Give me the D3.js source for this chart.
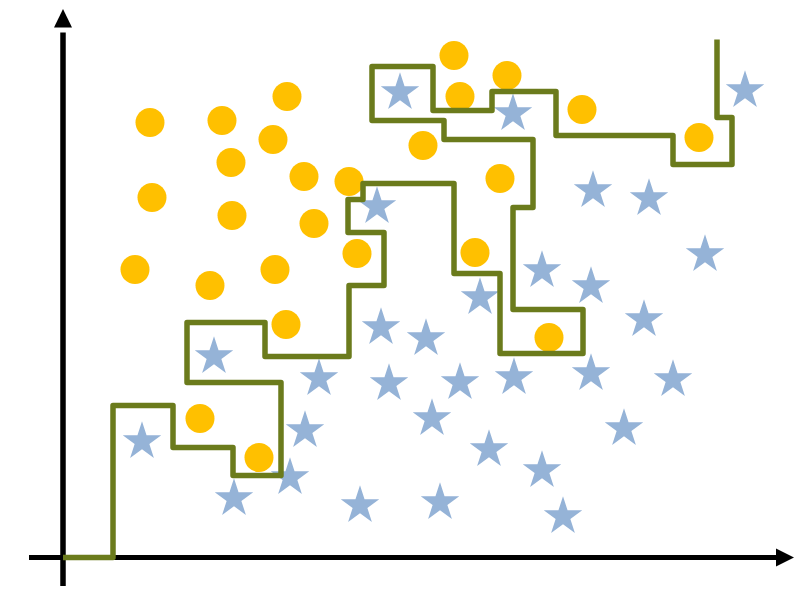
<html>
  <head>
    <meta charset="UTF-8">
    <script src="https://cdn.jsdelivr.net/npm/d3@7"></script>
    <title>Overfitting boundary</title>
    <style>
      body { margin: 0; background: #fff; }
    </style>
  </head>
  <body>
    <script type="text/javascript">

      var width = 802;
      var height = 594;

      // class A (orange circles) positions in data units
      var circleX = [8.7, 15.9, 22.4, 21.0, 16.8, 24.1, 28.6, 8.9, 16.9, 25.1, 29.4, 7.2, 14.7,
                     21.2, 22.3, 13.7, 19.6, 39.1, 44.4, 39.7, 51.9, 36.0, 63.6, 43.7, 41.2, 48.6];
      var circleY = [43.5, 43.7, 46.1, 41.8, 39.5, 38.1, 37.6, 36.0, 34.2, 33.4, 30.4, 28.8, 27.2,
                     28.8, 23.3, 13.9, 10.0, 50.2, 48.2, 46.1, 44.8, 41.2, 42.0, 37.9, 30.5, 22.0];

      // class B (blue stars)
      var starX = [68.2, 33.7, 45.0, 53.0, 58.6, 64.2, 47.9, 52.8, 41.7, 58.1, 31.4, 15.1, 7.9,
                   31.8, 25.6, 32.6, 24.2, 17.1, 22.7, 29.7, 36.3, 39.7, 45.1, 52.8, 61.0, 36.9,
                   56.1, 42.6, 47.9, 37.7, 50.0];
      var starY = [46.7, 46.5, 44.4, 36.7, 35.9, 30.3, 28.7, 27.1, 26.0, 23.8, 35.1, 20.1, 11.6,
                   23.0, 17.9, 17.4, 12.7, 5.9, 8.0, 5.2, 21.9, 17.5, 18.0, 18.4, 17.8, 13.9,
                   12.9, 10.8, 8.7, 5.5, 4.1];

      // step-shaped decision boundary
      var boundaryX = [0, 5.0, 5.0, 11.0, 11.0, 17.0, 17.0, 21.8, 21.8, 12.4, 12.4, 20.2, 20.2,
                       28.6, 28.6, 32.1, 32.1, 28.5, 28.5, 30.0, 30.0, 39.1, 39.1, 43.7, 43.7,
                       52.0, 52.0, 45.0, 45.0, 47.0, 47.0, 38.1, 38.1, 30.9, 30.9, 37.0, 37.0,
                       42.9, 42.9, 49.3, 49.3, 61.0, 61.0, 66.9, 66.9, 65.4, 65.4];
      var boundaryY = [0, 0, 15.2, 15.2, 11.0, 11.0, 8.2, 8.2, 17.5, 17.5, 23.5, 23.5, 20.1,
                       20.1, 27.2, 27.2, 32.5, 32.5, 35.8, 35.8, 37.4, 37.4, 28.4, 28.4, 20.4,
                       20.4, 24.8, 24.8, 35.0, 35.0, 41.8, 41.8, 43.7, 43.7, 49.1, 49.1, 44.7,
                       44.7, 46.6, 46.6, 42.2, 42.2, 39.3, 39.3, 44.0, 44.0, 51.8];

      var svg = d3.select('body')
                  .append('svg')
                  .attr('width', width)
                  .attr('height', height);

      var x = d3.scaleLinear().domain([0, 73]).range([63, 793]);
      var y = d3.scaleLinear().domain([0, 55]).range([557.5, 7.5]);

      // axes with arrow heads
      svg.append('line')
          .attr('x1', x(-3.4)).attr('y1', y(0))
          .attr('x2', x(71.5)).attr('y2', y(0))
          .style('stroke', 'black')
          .style('stroke-width', 5);
      svg.append('path')
          .attr('d', 'M' + x(71.3) + ',' + (y(0) - 9) + 'L' + x(73.1) + ',' + y(0) +
                     'L' + x(71.3) + ',' + (y(0) + 9) + 'Z')
          .style('fill', 'black');

      svg.append('line')
          .attr('x1', x(0)).attr('y1', y(-2.85))
          .attr('x2', x(0)).attr('y2', y(52.5))
          .style('stroke', 'black')
          .style('stroke-width', 5.5);
      svg.append('path')
          .attr('d', 'M' + (x(0) - 9) + ',' + y(53) + 'L' + x(0) + ',' + y(54.85) +
                     'L' + (x(0) + 9) + ',' + y(53) + 'Z')
          .style('fill', 'black');

      var circles = circleX.map(function(d, i){ return [d, circleY[i]]; });
      var stars = starX.map(function(d, i){ return [d, starY[i]]; });
      var boundary = boundaryX.map(function(d, i){ return [d, boundaryY[i]]; });

      svg.selectAll('circle.a')
          .data(circles)
          .enter()
          .append('circle')
          .attr('class', 'a')
          .attr('cx', function(d){ return x(d[0]); })
          .attr('cy', function(d){ return y(d[1]); })
          .attr('r', 14.5)
          .style('fill', '#ffc000');

      var star = d3.symbol().type(d3.symbolStar).size(460);
      svg.selectAll('path.b')
          .data(stars)
          .enter()
          .append('path')
          .attr('class', 'b')
          .attr('d', star)
          .attr('transform', function(d){
            return 'translate(' + x(d[0]) + ',' + y(d[1]) + ')';
          })
          .style('fill', '#95b3d7');

      var line = d3.line()
          .x(function(d){ return x(d[0]); })
          .y(function(d){ return y(d[1]); });

      svg.append('path')
          .datum(boundary)
          .attr('d', line)
          .style('fill', 'none')
          .style('stroke', '#6b7b1c')
          .style('stroke-width', 5.5)
          .style('stroke-linejoin', 'round');

    </script>
  </body>
</html>
